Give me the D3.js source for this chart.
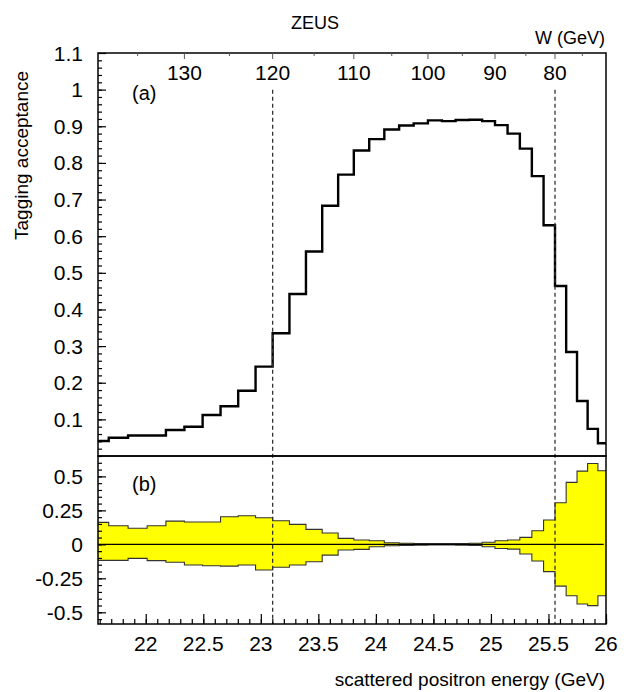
<!DOCTYPE html>
<html><head><meta charset="utf-8">
<script src="https://cdn.jsdelivr.net/npm/d3@7"></script>
<style>
html,body{margin:0;padding:0;background:#fff;}
svg text{font-family:"Liberation Sans",Arial,Helvetica,sans-serif;fill:#000;}
</style></head>
<body>
<script>
// ---- data ----
// bins are 2 GeV wide in W; edges listed from high W (low energy) to low W
const wEdges = [140,138,136,134,132,130,128,126,124,122,120,118,116,114,112,110,108,106,104,102,100,98,96,94,92,90,88,86,84,82,80,78,76,74,72,70];
const acceptance = [0.041,0.050,0.056,0.056,0.071,0.080,0.112,0.136,0.178,0.244,
  0.335,0.442,0.558,0.683,0.768,
  0.834,0.865,0.891,0.902,0.908,
  0.916,0.914,0.917,0.918,0.914,
  0.903,0.880,0.839,0.764,0.630,
  0.464,0.284,0.150,0.074,0.035];
const bandUpper = [0.162,0.137,0.118,0.137,0.171,0.164,0.164,0.203,0.210,0.196,
  0.174,0.147,0.110,0.083,0.044,
  0.032,0.027,0.012,0.008,0.006,
  0.005,0.005,0.006,0.008,0.015,
  0.027,0.032,0.051,0.100,0.179,
  0.306,0.456,0.539,0.595,0.541];
const bandLower = [-0.118,-0.118,-0.103,-0.120,-0.132,-0.152,-0.157,-0.160,-0.152,-0.189,
  -0.169,-0.152,-0.128,-0.079,-0.042,
  -0.037,-0.018,-0.010,-0.008,-0.006,
  -0.005,-0.005,-0.006,-0.008,-0.018,
  -0.030,-0.035,-0.071,-0.123,-0.201,
  -0.307,-0.378,-0.439,-0.451,-0.378];
const eTicks = [22,22.5,23,23.5,24,24.5,25,25.5,26];
const wTicks = [130,120,110,100,90,80];
const wMinor = [135,125,115,105,95,85,75];
const accTicks = [0.1,0.2,0.3,0.4,0.5,0.6,0.7,0.8,0.9,1,1.1];
const accTickLabels = ["0.1","0.2","0.3","0.4","0.5","0.6","0.7","0.8","0.9","1","1.1"];
const ratioTicks = [-0.5,-0.25,0,0.25,0.5];
const ratioTickLabels = ["-0.5","-0.25","0","0.25","0.5"];
const wCuts = [120,80];
// W <-> scattered positron energy: E = Ee - W^2 / k
const Ee = 27.52, kW = 3260;
const eOfW = w => Ee - w*w/kW;

// ---- layout ----
const W = 629, H = 692;
const X0 = 98, X1 = 606, YT0 = 53, YT1 = 456, YB1 = 624;
const svg = d3.select("body").append("svg").attr("width",W).attr("height",H);

const x = d3.scaleLinear().domain([21.585,26]).range([X0,X1]);
const yTop = d3.scaleLinear().domain([0,1.1]).range([YT1,YT0]);
const yBot = d3.scaleLinear().domain([-0.586,0.65]).range([YB1,YT1]);

svg.append("defs").append("clipPath").attr("id","clipT").append("rect")
  .attr("x",X0).attr("y",YT0).attr("width",X1-X0).attr("height",YT1-YT0);
svg.select("defs").append("clipPath").attr("id","clipB").append("rect")
  .attr("x",X0).attr("y",YT1).attr("width",X1-X0).attr("height",YB1-YT1);

const eEdges = wEdges.map(eOfW);
const pts = (vals) => vals.map((v,i)=>({e:eEdges[i],v})).concat([{e:eEdges[eEdges.length-1],v:vals[vals.length-1]}]);

// ---- lower panel band ----
const bandPts = bandUpper.map((u,i)=>({e:eEdges[i],u,l:bandLower[i]}));
bandPts.push({e:eEdges[eEdges.length-1],u:bandUpper[bandUpper.length-1],l:bandLower[bandLower.length-1]});
const gB = svg.append("g").attr("clip-path","url(#clipB)");
gB.append("path").datum(bandPts)
  .attr("d",d3.area().curve(d3.curveStepAfter).x(d=>x(d.e)).y0(d=>yBot(d.l)).y1(d=>yBot(d.u)))
  .attr("fill","#ffff00").attr("stroke","none");
["u","l"].forEach(k=>{
  gB.append("path").datum(bandPts)
    .attr("d",d3.line().curve(d3.curveStepAfter).x(d=>x(d.e)).y(d=>yBot(d[k])))
    .attr("fill","none").attr("stroke","#333").attr("stroke-width",1.1);
});
gB.append("line").attr("x1",x(21.585)).attr("x2",x(25.98)).attr("y1",yBot(0)).attr("y2",yBot(0))
  .attr("stroke","#000").attr("stroke-width",1.4);

// ---- upper panel histogram ----
const gT = svg.append("g").attr("clip-path","url(#clipT)");
gT.append("path").datum(pts(acceptance))
  .attr("d",d3.line().curve(d3.curveStepAfter).x(d=>x(d.e)).y(d=>yTop(d.v)))
  .attr("fill","none").attr("stroke","#000").attr("stroke-width",2.4).attr("stroke-linejoin","miter");

// ---- dashed W cut lines ----
wCuts.forEach(w=>{
  svg.append("line").attr("x1",x(eOfW(w))).attr("x2",x(eOfW(w)))
    .attr("y1",yTop(1.0)).attr("y2",YB1)
    .attr("stroke","#333").attr("stroke-width",1.3).attr("stroke-dasharray","4,3");
});

// ---- frames ----
[[YT0,YT1],[YT1,YB1]].forEach(([a,b])=>{
  svg.append("rect").attr("x",X0).attr("y",a).attr("width",X1-X0).attr("height",b-a)
    .attr("fill","none").attr("stroke","#000").attr("stroke-width",1.5);
});

// ---- axes ----
const fs = 21;
// upper y
const gyT = svg.append("g").attr("transform",`translate(${X0},0)`);
gyT.call(d3.axisRight(yTop).tickValues(d3.range(0.02,1.1,0.02)).tickSize(4).tickFormat(""));
gyT.call(g=>g.append("g").call(d3.axisRight(yTop).tickValues(accTicks).tickSize(8).tickFormat("")));
gyT.selectAll(".domain").remove();
gyT.selectAll("line").attr("stroke","#000").attr("stroke-width",1.2);
svg.append("g").selectAll("text").data(accTicks).join("text")
  .attr("x",83).attr("y",d=>yTop(d)+7.5).attr("text-anchor","end").attr("font-size",fs)
  .text((d,i)=>accTickLabels[i]);

// lower y
const gyB = svg.append("g").attr("transform",`translate(${X0},0)`);
gyB.call(d3.axisRight(yBot).tickValues(d3.range(-0.55,0.66,0.05)).tickSize(4).tickFormat(""));
gyB.call(g=>g.append("g").call(d3.axisRight(yBot).tickValues(ratioTicks).tickSize(8).tickFormat("")));
gyB.selectAll(".domain").remove();
gyB.selectAll("line").attr("stroke","#000").attr("stroke-width",1.2);
svg.append("g").selectAll("text").data(ratioTicks).join("text")
  .attr("x",83).attr("y",d=>yBot(d)+7.5).attr("text-anchor","end").attr("font-size",fs)
  .text((d,i)=>ratioTickLabels[i]);

// bottom x
const gx = svg.append("g").attr("transform",`translate(0,${YB1})`);
gx.call(d3.axisTop(x).tickValues(d3.range(21.6,26.01,0.1)).tickSize(5).tickFormat(""));
gx.call(g=>g.append("g").call(d3.axisTop(x).tickValues(eTicks).tickSize(10).tickFormat("")));
gx.selectAll(".domain").remove();
gx.selectAll("line").attr("stroke","#000").attr("stroke-width",1.2);
svg.append("g").selectAll("text").data(eTicks).join("text")
  .attr("x",d=>x(d)).attr("y",651).attr("text-anchor","middle").attr("font-size",fs)
  .text(d=>d);

// top W axis
const gw = svg.append("g").attr("transform",`translate(0,${YT0})`);
gw.selectAll("line.maj").data(wTicks).join("line").attr("class","maj")
  .attr("x1",d=>x(eOfW(d))).attr("x2",d=>x(eOfW(d))).attr("y1",0).attr("y2",6)
  .attr("stroke","#555").attr("stroke-width",1);
gw.selectAll("line.min").data(wMinor).join("line").attr("class","min")
  .attr("x1",d=>x(eOfW(d))).attr("x2",d=>x(eOfW(d))).attr("y1",0).attr("y2",3)
  .attr("stroke","#555").attr("stroke-width",1);
svg.append("g").selectAll("text").data(wTicks).join("text")
  .attr("x",d=>x(eOfW(d))).attr("y",80).attr("text-anchor","middle").attr("font-size",fs)
  .text(d=>d);

// ---- labels ----
svg.append("text").attr("x",315).attr("y",29).attr("text-anchor","middle").attr("font-size",18).text("ZEUS");
svg.append("text").attr("x",605).attr("y",44).attr("text-anchor","end").attr("font-size",18).text("W (GeV)");
svg.append("text").attr("transform","translate(28,240) rotate(-90)").attr("font-size",19).text("Tagging acceptance");
svg.append("text").attr("x",605).attr("y",686).attr("text-anchor","end").attr("font-size",19).text("scattered positron energy (GeV)");
svg.append("text").attr("x",132).attr("y",100).attr("font-size",20).text("(a)");
svg.append("text").attr("x",132).attr("y",491).attr("font-size",20).text("(b)");
</script>
</body></html>
